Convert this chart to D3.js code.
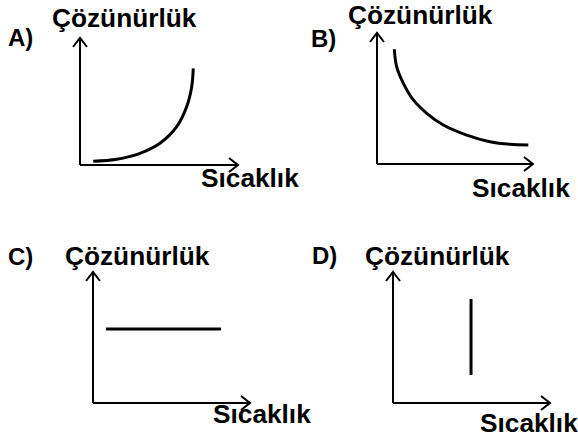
<!DOCTYPE html>
<html><head><meta charset="utf-8">
<script src="https://cdn.jsdelivr.net/npm/d3@7"></script>
<style>
html,body{margin:0;padding:0;background:#fff;}
svg{display:block;}
text{font-family:"Liberation Sans",Arial,sans-serif;font-weight:bold;fill:#000;}
</style></head>
<body>
<svg id="chart" width="578" height="435"></svg>
<script>
// ---- data ----
const panelLetters = ["A)", "B)", "C)", "D)"];
const yAxisLabel = "Çözünürlük";
const xAxisLabel = "Sıcaklık";
// curves in data units (temperature 0-10, solubility 0-10)
const curveA_x = [0.84, 2.32, 3.80, 5.06, 6.12, 6.75, 7.07, 7.17];
const curveA_y = [0.29, 0.45, 0.92, 1.71, 3.02, 4.59, 6.17, 7.61];
const curveB_x = [1.11, 1.26, 1.69, 2.33, 3.19, 4.25, 5.75, 7.24, 8.53, 9.70];
const curveB_y = [8.76, 7.43, 6.16, 4.89, 3.87, 2.98, 2.21, 1.70, 1.50, 1.45];
const curveC_x = [0.83, 8.15];
const curveC_y = [5.65, 5.65];
const curveD_x = [4.97, 4.97];
const curveD_y = [7.94, 2.14];

// ---- layout ----
const panels = [
  {letter: panelLetters[0], xs: curveA_x, ys: curveA_y, ox: 80, oy: 165, xEnd: 238, yTop: 38,
   letterPos: [8, 46], ylPos: [52, 27], xlPos: [201, 187], smooth: true},
  {letter: panelLetters[1], xs: curveB_x, ys: curveB_y, ox: 377, oy: 164, xEnd: 533, yTop: 33,
   letterPos: [311, 47], ylPos: [348, 24], xlPos: [472, 197], smooth: true},
  {letter: panelLetters[2], xs: curveC_x, ys: curveC_y, ox: 93, oy: 403, xEnd: 250, yTop: 272,
   letterPos: [8, 265], ylPos: [65, 265], xlPos: [213, 423], smooth: false},
  {letter: panelLetters[3], xs: curveD_x, ys: curveD_y, ox: 393, oy: 403, xEnd: 550, yTop: 272,
   letterPos: [312, 264], ylPos: [365, 265], xlPos: [480, 432], smooth: false}
];

const svg = d3.select("#chart");

function label(g, txt, x, y, fs, sx) {
  g.append("text")
    .attr("transform", `translate(${x},${y}) scale(${sx},1)`)
    .attr("font-size", fs)
    .text(txt);
}

panels.forEach(p => {
  const g = svg.append("g");
  const x = d3.scaleLinear().domain([0, 10]).range([p.ox, p.xEnd]);
  const y = d3.scaleLinear().domain([0, 10]).range([p.oy, p.yTop]);

  // axes
  g.append("line").attr("x1", x(0)).attr("y1", y(0)).attr("x2", x(0)).attr("y2", y(10))
    .attr("stroke", "#000").attr("stroke-width", 2);
  g.append("line").attr("x1", x(0)).attr("y1", y(0)).attr("x2", x(10)).attr("y2", y(0))
    .attr("stroke", "#000").attr("stroke-width", 2);
  // arrow heads
  const ah = 7, al = 9;
  g.append("path")
    .attr("d", `M${x(0)-ah},${y(10)+al} L${x(0)},${y(10)} L${x(0)+ah},${y(10)+al}`)
    .attr("fill", "none").attr("stroke", "#000").attr("stroke-width", 2);
  g.append("path")
    .attr("d", `M${x(10)-al},${y(0)-ah} L${x(10)},${y(0)} L${x(10)-al},${y(0)+ah}`)
    .attr("fill", "none").attr("stroke", "#000").attr("stroke-width", 2);

  // curve
  const pts = p.xs.map((v, i) => [v, p.ys[i]]);
  const line = d3.line().x(d => x(d[0])).y(d => y(d[1]))
    .curve(p.smooth ? d3.curveCatmullRom.alpha(0.5) : d3.curveLinear);
  g.append("path").datum(pts).attr("d", line)
    .attr("fill", "none").attr("stroke", "#000").attr("stroke-width", 3);

  // texts
  label(g, p.letter, p.letterPos[0], p.letterPos[1], 24, 1);
  label(g, yAxisLabel, p.ylPos[0], p.ylPos[1], 25, 1.05);
  label(g, xAxisLabel, p.xlPos[0], p.xlPos[1], 25, 1.05);
});
</script>
</body></html>
